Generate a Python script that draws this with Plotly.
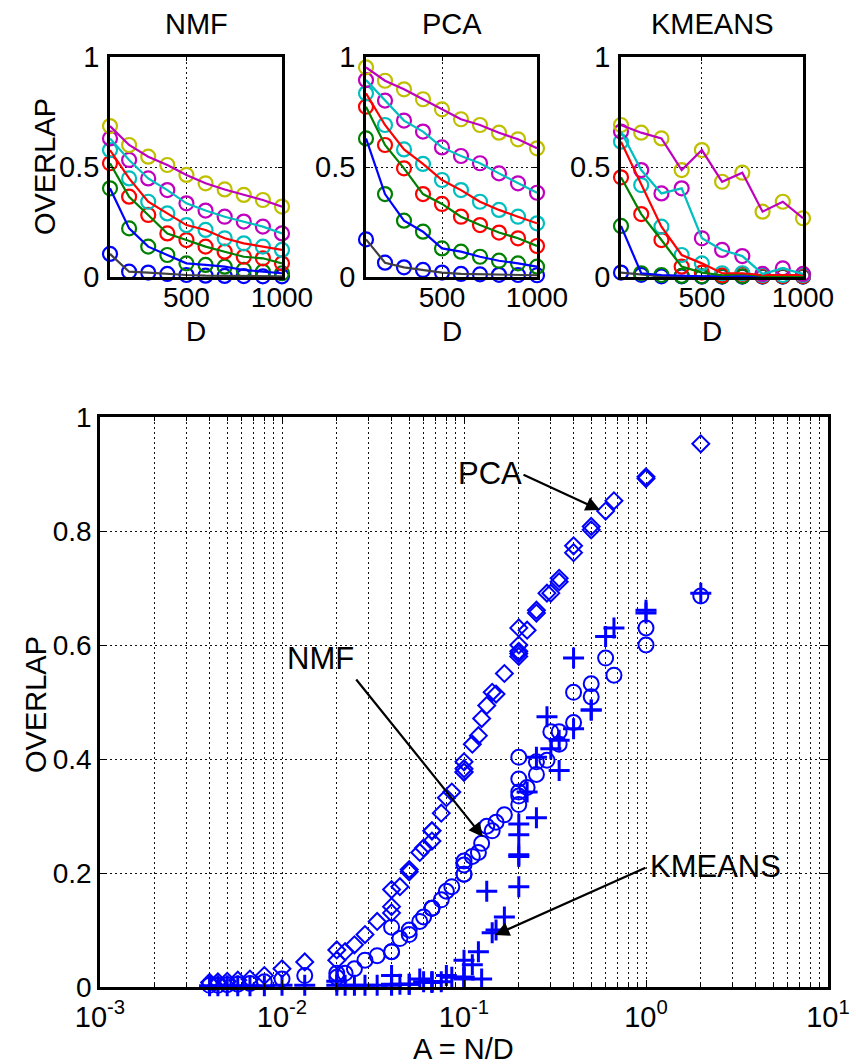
import plotly.graph_objects as go

# ---------------- data ----------------
D = [100, 200, 300, 400, 500, 600, 700, 800, 900, 1000]
N = [4, 20, 40, 60, 100, 200]   # one value per series (blue, green, red, cyan, magenta, yellow)

nmf_blue    = [0.105, 0.024, 0.020, 0.014, 0.009, 0.006, 0.005, 0.004, 0.003, 0.003]
nmf_green   = [0.403, 0.221, 0.138, 0.100, 0.062, 0.055, 0.047, 0.032, 0.024, 0.017]
nmf_red     = [0.517, 0.365, 0.282, 0.198, 0.168, 0.138, 0.115, 0.092, 0.085, 0.062]
nmf_cyan    = [0.577, 0.448, 0.342, 0.289, 0.236, 0.214, 0.176, 0.153, 0.138, 0.123]
nmf_magenta = [0.630, 0.532, 0.448, 0.395, 0.335, 0.302, 0.274, 0.252, 0.229, 0.198]
nmf_yellow  = [0.686, 0.600, 0.547, 0.509, 0.464, 0.426, 0.398, 0.373, 0.350, 0.320]

pca_blue    = [0.171, 0.065, 0.044, 0.032, 0.020, 0.014, 0.012, 0.010, 0.009, 0.008]
pca_green   = [0.630, 0.377, 0.256, 0.206, 0.130, 0.115, 0.092, 0.074, 0.062, 0.047]
pca_red     = [0.774, 0.600, 0.494, 0.377, 0.332, 0.274, 0.236, 0.202, 0.176, 0.141]
pca_cyan    = [0.835, 0.691, 0.580, 0.514, 0.441, 0.395, 0.342, 0.305, 0.274, 0.244]
pca_magenta = [0.895, 0.802, 0.711, 0.661, 0.589, 0.550, 0.517, 0.471, 0.426, 0.383]
pca_yellow  = [0.953, 0.892, 0.853, 0.808, 0.762, 0.717, 0.691, 0.656, 0.626, 0.585]

km_blue    = [0.020, 0.010, 0.003, 0.003, 0.002, 0.002, 0.002, 0.002, 0.002, 0.002]
km_green   = [0.232, 0.017, 0.009, 0.005, 0.003, 0.003, 0.003, 0.003, 0.003, 0.003]
km_red     = [0.453, 0.286, 0.168, 0.047, 0.020, 0.008, 0.014, 0.005, 0.005, 0.005]
km_cyan    = [0.615, 0.418, 0.229, 0.100, 0.062, 0.017, 0.017, 0.009, 0.009, 0.009]
km_magenta = [0.661, 0.486, 0.380, 0.403, 0.176, 0.123, 0.095, 0.014, 0.039, 0.014]
km_yellow  = [0.691, 0.656, 0.630, 0.486, 0.577, 0.433, 0.474, 0.297, 0.342, 0.267]

methods = ["NMF", "PCA", "KMEANS"]
method_series = {
    "NMF": [nmf_blue, nmf_green, nmf_red, nmf_cyan, nmf_magenta, nmf_yellow],
    "PCA": [pca_blue, pca_green, pca_red, pca_cyan, pca_magenta, pca_yellow],
    "KMEANS": [km_blue, km_green, km_red, km_cyan, km_magenta, km_yellow],
}

x_ticks_top = [500, 1000]
y_ticks_top = [0, 0.5, 1]
x_ticks_log = [1e-3, 1e-2, 1e-1, 1, 10]
x_ticktext_log = ["10<sup>-3</sup>", "10<sup>-2</sup>", "10<sup>-1</sup>", "10<sup>0</sup>", "10<sup>1</sup>"]
y_ticks_bottom = [0, 0.2, 0.4, 0.6, 0.8, 1]

# ---------------- styles ----------------
FONT = "Liberation Sans, Arial, Helvetica, sans-serif"
W, H = 856, 1064
marker_colors = ["#0000FF", "#008000", "#FF0000", "#00BFBF", "#BF00BF", "#BFBF00"]
line_colors = ["#404040", "#0000FF", "#008000", "#FF0000", "#00BFBF", "#BF00BF"]
bottom_symbols = {"PCA": "diamond-open", "NMF": "circle-open", "KMEANS": "cross-thin-open"}
bottom_sizes = {"PCA": 13, "NMF": 15, "KMEANS": 15}
bottom_lw = {"PCA": 2, "NMF": 2, "KMEANS": 3}

def px(x):
    return x / W

def py(y):
    return 1 - y / H

top_boxes = {"NMF": (110, 282), "PCA": (366, 537), "KMEANS": (621, 803)}
top_y = (57, 277)
bottom_box = (100, 828, 417, 987)

fig = go.Figure()

# ---------------- top subplots ----------------
for i, m in enumerate(methods):
    xa = "x" if i == 0 else f"x{i+1}"
    ya = "y" if i == 0 else f"y{i+1}"
    for k, vals in enumerate(method_series[m]):
        fig.add_trace(go.Scatter(
            x=D, y=vals, mode="markers", xaxis=xa, yaxis=ya, cliponaxis=False,
            marker=dict(symbol="circle-open", size=14, color=marker_colors[k],
                        line=dict(width=2.2, color=marker_colors[k])),
            showlegend=False, hoverinfo="skip"))
    for k, vals in enumerate(method_series[m]):
        fig.add_trace(go.Scatter(
            x=D, y=vals, mode="lines", xaxis=xa, yaxis=ya,
            line=dict(width=2.2, color=line_colors[k]),
            showlegend=False, hoverinfo="skip"))

# ---------------- bottom subplot ----------------
for m in ["PCA", "NMF", "KMEANS"]:
    xs, ys = [], []
    for n, vals in zip(N, method_series[m]):
        for d, v in zip(D, vals):
            xs.append(n / d)
            ys.append(v)
    fig.add_trace(go.Scatter(
        x=xs, y=ys, mode="markers", xaxis="x4", yaxis="y4", cliponaxis=False,
        marker=dict(symbol=bottom_symbols[m], size=bottom_sizes[m], color="#0000FF",
                    line=dict(width=bottom_lw[m], color="#0000FF")),
        showlegend=False, hoverinfo="skip"))

grid_common = dict(showgrid=True, gridcolor="#111111", gridwidth=1.2, griddash="2px,3px",
                   showline=True, linecolor="black", linewidth=2.5, mirror="allticks",
                   ticks="inside", tickcolor="black", zeroline=False, automargin=False)

layout = dict(width=W, height=H, margin=dict(l=0, r=0, t=0, b=0, pad=0, autoexpand=False),
              paper_bgcolor="white", plot_bgcolor="white", showlegend=False,
              font=dict(family=FONT, color="black"))

for i, m in enumerate(methods):
    xl, xr = top_boxes[m]
    xkey = "xaxis" if i == 0 else f"xaxis{i+1}"
    ykey = "yaxis" if i == 0 else f"yaxis{i+1}"
    anchor_y = "y" if i == 0 else f"y{i+1}"
    anchor_x = "x" if i == 0 else f"x{i+1}"
    layout[xkey] = dict(domain=[px(xl), px(xr)], range=[100, 1000], anchor=anchor_y,
                        tickmode="array", tickvals=x_ticks_top,
                        ticktext=[str(v) for v in x_ticks_top], ticklen=4,
                        ticklabelstandoff=-6,
                        tickfont=dict(family=FONT, size=28, color="black"), **grid_common)
    layout[ykey] = dict(domain=[py(top_y[1]), py(top_y[0])], range=[0, 1], anchor=anchor_x,
                        tickmode="array", tickvals=y_ticks_top,
                        ticktext=["0", "0.5", "1"], ticklen=4,
                        ticklabelstandoff=2,
                        tickfont=dict(family=FONT, size=29, color="black"), **grid_common)

bl, br, bt, bb = bottom_box
minor_vals = [k * 10 ** e for e in range(-3, 1) for k in range(2, 10)]
layout["xaxis4"] = dict(domain=[px(bl), px(br)], type="log", range=[-3, 1], anchor="y4",
                        tickmode="array", tickvals=x_ticks_log, ticktext=x_ticktext_log,
                        ticklen=7, ticklabelstandoff=2,
                        tickfont=dict(family=FONT, size=29, color="black"),
                        minor=dict(tickmode="array", tickvals=minor_vals, showgrid=True,
                                   gridcolor="#111111", gridwidth=1.2, griddash="2px,3px",
                                   ticks="inside", ticklen=4, tickcolor="black"),
                        **grid_common)
layout["yaxis4"] = dict(domain=[py(bb), py(bt)], range=[0, 1], anchor="x4",
                        tickmode="array", tickvals=y_ticks_bottom,
                        ticktext=["0", "0.2", "0.4", "0.6", "0.8", "1"], ticklen=7,
                        ticklabelstandoff=0,
                        tickfont=dict(family=FONT, size=28, color="black"), **grid_common)

fig.update_layout(**layout)

# ---------------- text annotations ----------------
def txt(x, y, s, size=29, angle=0):
    fig.add_annotation(x=px(x), y=py(y), xref="paper", yref="paper", text=s,
                       showarrow=False, textangle=angle, xanchor="center", yanchor="middle",
                       font=dict(family=FONT, size=size, color="black"))

for m in methods:
    xl, xr = top_boxes[m]
    txt((xl + xr) / 2, 24, m)
    txt((xl + xr) / 2, 331, "D", size=28)
txt(45, 167, "OVERLAP", angle=-90)
txt(36, 705, "OVERLAP", angle=-90)
txt(464, 1049, "A = N/D", size=29)

txt(490, 473, "PCA", size=31)
txt(320, 658, "NMF", size=31)
txt(715, 866, "KMEANS", size=31)

def arrow(x0, y0, x1, y1):
    fig.add_annotation(x=px(x1), y=py(y1), xref="paper", yref="paper",
                       ax=x0 - x1, ay=y0 - y1, axref="pixel", ayref="pixel",
                       text="", showarrow=True, arrowhead=2, arrowsize=1.3,
                       arrowwidth=2.2, arrowcolor="black")

arrow(522, 474, 600, 510)
arrow(355, 678, 483, 837)
arrow(647, 867, 495, 935)

fig.write_html("out.html", config={"displayModeBar": False},
               post_script="document.body.style.margin='0px';document.body.style.overflow='hidden';")
